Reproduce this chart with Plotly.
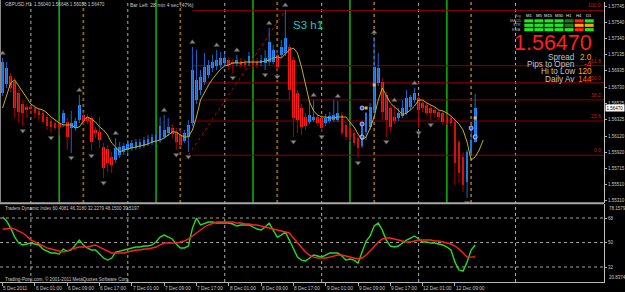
import plotly.graph_objects as go

# ---------------- data (GBPUSD H1, bar index 0 = 5 Dec 17:00) ----------------
open_ = [1.56658, 1.5677, 1.5687, 1.56795, 1.56658, 1.5652, 1.56483, 1.56483, 1.5647, 1.56433,
         1.56408, 1.56358, 1.56308, 1.56283, 1.5627, 1.56283, 1.56295, 1.5622, 1.5622, 1.5632,
         1.56383, 1.56358, 1.56345, 1.56195, 1.5617, 1.55983, 1.55958, 1.55858, 1.5582, 1.55883,
         1.5592, 1.55945, 1.5597, 1.5597, 1.55983, 1.55995, 1.5602, 1.56033, 1.56045, 1.5607,
         1.56108, 1.56158, 1.5622, 1.5617, 1.56133, 1.56058, 1.56108, 1.56283, 1.5657, 1.56695,
         1.56795, 1.56883, 1.5697, 1.56995, 1.57008, 1.57033, 1.5707, 1.57045, 1.57033, 1.57058,
         1.57045, 1.57033, 1.57058, 1.57045, 1.57033, 1.57033, 1.57045, 1.57045, 1.57133, 1.57133,
         1.57158, 1.57233, 1.5707, 1.56658, 1.5647, 1.56358, 1.56295, 1.5632, 1.56358, 1.56345,
         1.56283, 1.56308, 1.5632, 1.5632, 1.56383, 1.56258, 1.5622, 1.56158, 1.56095, 1.55995,
         1.5617, 1.56233, 1.56445, 1.56783, 1.56795, 1.56633, 1.5647, 1.56358, 1.56345, 1.5637,
         1.56408, 1.56483, 1.5657, 1.56595, 1.56533, 1.56508, 1.5647, 1.56445, 1.5642, 1.56408,
         1.56358, 1.56345, 1.56295, 1.56045, 1.55858, 1.55545, 1.5592, 1.5604]
high = [1.57095, 1.57045, 1.56908, 1.56845, 1.5672, 1.5657, 1.5652, 1.56508, 1.56508, 1.5647,
        1.56433, 1.56395, 1.56345, 1.5632, 1.56308, 1.56445, 1.56345, 1.56433, 1.56345, 1.56633,
        1.5642, 1.56395, 1.5637, 1.56233, 1.56358, 1.56033, 1.56008, 1.5592, 1.56095, 1.56045,
        1.56033, 1.5607, 1.5607, 1.56083, 1.56083, 1.56108, 1.56133, 1.56145, 1.56158, 1.56358,
        1.56383, 1.56345, 1.5627, 1.5622, 1.56195, 1.56195, 1.5632, 1.57233, 1.57195, 1.56945,
        1.57158, 1.5707, 1.57133, 1.57195, 1.5717, 1.57145, 1.57108, 1.57083, 1.57133, 1.57095,
        1.57083, 1.5717, 1.57083, 1.57095, 1.57133, 1.57195, 1.5747, 1.57258, 1.57195, 1.5732,
        1.57695, 1.5727, 1.57108, 1.56695, 1.5652, 1.56408, 1.5657, 1.5657, 1.56395, 1.56383,
        1.56395, 1.5642, 1.5657, 1.56558, 1.5642, 1.56295, 1.56258, 1.56195, 1.56133, 1.56283,
        1.5642, 1.56533, 1.57358, 1.57158, 1.56845, 1.5667, 1.56508, 1.56508, 1.5647, 1.5657,
        1.56695, 1.56633, 1.5672, 1.5662, 1.5657, 1.56545, 1.56508, 1.56483, 1.56445, 1.56433,
        1.56395, 1.56383, 1.56345, 1.5607, 1.5592, 1.55945, 1.56258, 1.56648]
low = [1.5662, 1.5672, 1.5667, 1.56345, 1.56283, 1.56245, 1.56345, 1.56395, 1.56345, 1.56308,
       1.5627, 1.56195, 1.56158, 1.56195, 1.56133, 1.56233, 1.55945, 1.55908, 1.56183, 1.56283,
       1.56258, 1.5627, 1.55933, 1.56095, 1.5597, 1.55595, 1.5567, 1.55658, 1.55783, 1.55845,
       1.55883, 1.55908, 1.55933, 1.55945, 1.55958, 1.5597, 1.55995, 1.56008, 1.5602, 1.56033,
       1.56083, 1.5612, 1.56095, 1.55945, 1.55983, 1.56033, 1.5592, 1.56245, 1.5652, 1.56633,
       1.56758, 1.56845, 1.5692, 1.56945, 1.5697, 1.56995, 1.56945, 1.56908, 1.56995, 1.5697,
       1.5697, 1.56995, 1.56945, 1.5697, 1.56995, 1.56945, 1.57008, 1.5702, 1.5692, 1.57095,
       1.5712, 1.5657, 1.56108, 1.56158, 1.56133, 1.56195, 1.5627, 1.56295, 1.56245, 1.5617,
       1.56245, 1.56283, 1.56295, 1.56295, 1.56133, 1.5607, 1.56045, 1.55995, 1.55845, 1.5597,
       1.5607, 1.56195, 1.56408, 1.56745, 1.5632, 1.56108, 1.5617, 1.5627, 1.56308, 1.56345,
       1.56383, 1.56445, 1.56533, 1.5622, 1.5642, 1.56383, 1.5632, 1.56345, 1.5632, 1.56258,
       1.56258, 1.56245, 1.55508, 1.55533, 1.5542, 1.55345, 1.5587, 1.56038]
close = [1.57045, 1.5697, 1.5672, 1.5647, 1.5642, 1.56408, 1.56445, 1.56458, 1.56408, 1.56383,
         1.56295, 1.56245, 1.56233, 1.5622, 1.56233, 1.56408, 1.56108, 1.56283, 1.56308, 1.56508,
         1.56308, 1.56308, 1.56045, 1.56158, 1.5607, 1.5572, 1.55783, 1.55758, 1.5597, 1.55983,
         1.55995, 1.5602, 1.56033, 1.56045, 1.56045, 1.5607, 1.56083, 1.56108, 1.56133, 1.56245,
         1.56195, 1.56233, 1.56145, 1.56045, 1.56008, 1.56158, 1.56258, 1.56945, 1.5682, 1.56858,
         1.56983, 1.57008, 1.57045, 1.5707, 1.57095, 1.57095, 1.57008, 1.5702, 1.5707, 1.57008,
         1.57008, 1.5712, 1.57008, 1.57008, 1.5707, 1.57095, 1.57295, 1.57195, 1.56983, 1.57233,
         1.57345, 1.56695, 1.56345, 1.5632, 1.56233, 1.56245, 1.56383, 1.56358, 1.56283, 1.5622,
         1.56345, 1.5637, 1.56383, 1.56408, 1.56158, 1.56108, 1.56095, 1.56033, 1.5597, 1.56245,
         1.56408, 1.56483, 1.56983, 1.5697, 1.5642, 1.5632, 1.56233, 1.56308, 1.56408, 1.5647,
         1.56595, 1.56608, 1.56658, 1.56445, 1.5647, 1.56408, 1.56408, 1.56408, 1.56358, 1.56295,
         1.56283, 1.56283, 1.55783, 1.55658, 1.55508, 1.5592, 1.5607, 1.5647]
ma_line = [1.5647, 1.56633, 1.56783, 1.5682, 1.56745, 1.5667, 1.56583, 1.5652, 1.56483, 1.56458,
           1.56445, 1.56408, 1.56358, 1.5632, 1.56283, 1.56258, 1.56258, 1.56258, 1.5622, 1.56233,
           1.56308, 1.56358, 1.56333, 1.56295, 1.56233, 1.56195, 1.56133, 1.56033, 1.55983, 1.5592,
           1.55945, 1.55958, 1.5597, 1.55983, 1.55995, 1.56008, 1.5602, 1.56045, 1.56058, 1.5607,
           1.56095, 1.56133, 1.5617, 1.5617, 1.56133, 1.56108, 1.56108, 1.56195, 1.56358, 1.5657,
           1.5667, 1.56758, 1.56833, 1.56895, 1.56958, 1.56995, 1.57008, 1.57033, 1.57033, 1.57033,
           1.57045, 1.57045, 1.57045, 1.57045, 1.57045, 1.57058, 1.5707, 1.57095, 1.57108, 1.57095,
           1.57145, 1.57195, 1.5722, 1.57158, 1.56983, 1.56745, 1.56545, 1.56433, 1.56383, 1.56358,
           1.56358, 1.56345, 1.56345, 1.56358, 1.56358, 1.56358, 1.56295, 1.56233, 1.56145, 1.5607,
           1.56108, 1.5622, 1.56358, 1.5657, 1.5672, 1.56633, 1.56533, 1.56483, 1.56445, 1.56383,
           1.56408, 1.56445, 1.56495, 1.5657, 1.5657, 1.56533, 1.56508, 1.56483, 1.56445, 1.56433,
           1.56408, 1.5637, 1.5632, 1.5627, 1.56195, 1.56045, 1.5582, 1.55858, 1.55945, 1.5607]
tdi_green = [68.7, 65.8, 60.6, 54.0, 49.6, 48.2, 48.9, 49.6, 48.9, 48.2,
             45.2, 43.7, 42.3, 42.3, 41.5, 45.2, 43.7, 44.5, 48.2, 51.8,
             48.2, 46.0, 44.5, 44.5, 41.5, 38.6, 37.1, 38.6, 43.0, 43.7,
             44.5, 45.2, 46.0, 46.7, 46.7, 47.4, 47.4, 48.2, 50.4, 54.0,
             55.5, 54.0, 52.6, 48.9, 46.0, 46.0, 47.4, 60.6, 68.0, 62.9,
             64.3, 65.1, 65.1, 64.3, 64.3, 64.3, 64.3, 63.6, 62.1, 62.9,
             62.9, 62.9, 61.4, 59.9, 59.2, 61.4, 64.3, 59.2, 54.0, 55.5,
             57.7, 51.8, 46.0, 39.3, 37.1, 36.4, 38.6, 40.8, 40.1, 39.3,
             40.8, 42.3, 42.3, 42.3, 40.1, 37.1, 37.9, 37.1, 34.9, 43.0,
             51.1, 54.8, 62.1, 64.3, 59.2, 51.8, 47.4, 46.7, 47.4, 49.6,
             51.8, 53.3, 54.8, 52.6, 50.4, 50.4, 49.6, 49.6, 48.9, 48.2,
             46.7, 44.5, 35.6, 29.8, 29.0, 35.6, 44.5, 48.15]
tdi_red = [59.9, 59.9, 60.6, 59.9, 58.4, 57.0, 54.8, 51.8, 50.4, 48.9,
           47.4, 46.0, 45.2, 44.5, 43.7, 43.0, 43.7, 45.2, 46.0, 46.7,
           46.7, 46.7, 47.4, 48.2, 46.7, 45.2, 43.7, 42.3, 42.3, 42.3,
           42.3, 43.0, 43.7, 44.5, 44.5, 45.2, 45.2, 46.0, 46.7, 48.2,
           49.6, 49.6, 49.6, 49.6, 50.4, 51.1, 52.6, 54.8, 57.0, 59.2,
           61.4, 62.9, 64.3, 65.1, 65.1, 65.1, 65.1, 65.1, 64.3, 64.3,
           63.6, 63.6, 62.9, 62.9, 62.1, 61.4, 60.6, 59.9, 59.2, 58.4,
           57.7, 57.0, 53.3, 49.6, 46.0, 43.0, 40.8, 39.3, 38.6, 38.6,
           38.6, 39.3, 40.1, 40.8, 40.8, 40.1, 39.3, 38.6, 37.9, 38.6,
           40.8, 43.7, 47.4, 50.4, 52.6, 53.3, 53.3, 52.6, 51.8, 51.1,
           50.4, 50.4, 51.1, 51.8, 51.8, 51.8, 51.8, 51.1, 51.1, 50.4,
           49.6, 48.9, 47.4, 45.2, 42.3, 39.3, 39.3, 39.52]
tdi_levels = [68, 50, 32]
tdi_status = "Traders Dynamic Index 60.4081 46.3180 32.2279 48.1500 39.5197"

fractal_up_bars = [0, 19, 28, 40, 47, 53, 58, 66, 70, 77, 83, 92, 97, 102]
fractal_down_bars = [5, 12, 17, 22, 25, 43, 46, 57, 65, 68, 72, 79, 88, 95, 103, 106, 115]
signal_dot_bars = [89, 89, 89, 116, 117]
signal_dot_prices = [1.5647, 1.5627, 1.56108, 1.5622, 1.56108]
signal_mark_bars = [90, 92, 117]
signal_mark_prices = [1.5647, 1.56758, 1.56345]

day_start_bars = [7, 31, 55, 79, 103, 127]
london_open_bars = [14, 38, 62, 86, 110]
ny_open_bars = [20, 44, 68, 92, 116]

time_label_bars = [0, 8, 16, 24, 32, 40, 48, 56, 64, 72, 80, 88, 96, 104, 112]
time_labels = ["5 Dec 2011", "6 Dec 01:00", "6 Dec 09:00", "6 Dec 17:00", "7 Dec 01:00",
               "7 Dec 09:00", "7 Dec 17:00", "8 Dec 01:00", "8 Dec 09:00", "8 Dec 17:00",
               "9 Dec 01:00", "9 Dec 09:00", "9 Dec 17:00", "12 Dec 01:00", "12 Dec 09:00"]
price_ticks = [1.57745, 1.57540, 1.57340, 1.57135, 1.56935, 1.56730, 1.56525,
               1.56325, 1.56120, 1.55920, 1.55715, 1.55510, 1.55310]

fib_low_bar, fib_high_bar = 46, 70
fib_start_bar = 47
fib_low, fib_high = 1.5588, 1.5769
fib_levels = [0.0, 23.6, 38.2, 50.0, 61.8, 100.0]

symbol_text = "GBPUSD,H1  1.56040 1.56648 1.56038 1.56470"
bar_left_text = "Bar Left: 28 min 4 sec (47%)"
last_price = 1.56470
info_labels = ["Spread", "Pips to Open", "Hi to Low", "Daily Av"]
info_values = ["2.0", "-4", "120", "144"]
signal_rows = ["MACD", "STR", "EMA"]
signal_tfs = ["M1", "M5", "M15", "M30", "H1", "H4", "D1"]
signal_states = [["up", "up", "up", "up", "weak", "down", "up"],
                 ["up", "up", "up", "up", "weak", "mixed", "mixed"],
                 ["up", "up", "up", "up", "up", "down", "up"]]

# ---------------- layout helpers ----------------
W, H = 625, 292
FONT = "Liberation Sans"
def px(x):
    return x / W
def py(y):
    return 1 - y / H

BAR0, BARW = 2.6, 4.052
XR = [-BAR0 / BARW, (606 - BAR0) / BARW]
PRICE_RANGE = [1.552825, 1.57795]
TDI_RANGE = [20.8374, 78.1579]

n = len(close)
bars = list(range(n))

fig = go.Figure()

# wicks
for up in (True, False):
    xs, ys = [], []
    for i in bars:
        if (close[i] >= open_[i]) == up:
            xs += [i, i, None]
            ys += [low[i], high[i], None]
    fig.add_trace(go.Scatter(x=xs, y=ys, mode="lines", hoverinfo="skip",
                             line=dict(color="#1F64C8" if up else "#B00000", width=1),
                             xaxis="x", yaxis="y"))

# bodies
bases = [min(o, c) for o, c in zip(open_, close)]
heights = [max(abs(c - o), 0.00013) for o, c in zip(open_, close)]
colors = ["#1E90FF" if c >= o else "#FF1A1A" for o, c in zip(open_, close)]
fig.add_trace(go.Bar(x=bars, y=heights, base=bases, width=0.68, hoverinfo="skip",
                     marker=dict(color=colors, line=dict(width=0)), xaxis="x", yaxis="y"))

# moving average
fig.add_trace(go.Scatter(x=list(range(len(ma_line))), y=ma_line, mode="lines", hoverinfo="skip",
                         line=dict(color="#BDB31C", width=1), xaxis="x", yaxis="y"))

# fractals
fig.add_trace(go.Scatter(x=fractal_up_bars, y=[high[i] + 0.0006 for i in fractal_up_bars],
                         mode="markers", hoverinfo="skip",
                         marker=dict(symbol="triangle-up", size=5, color="#8A8A8A",
                                     line=dict(color="#3A3A3A", width=0.6)),
                         xaxis="x", yaxis="y"))
fig.add_trace(go.Scatter(x=fractal_down_bars, y=[low[i] - 0.0006 for i in fractal_down_bars],
                         mode="markers", hoverinfo="skip",
                         marker=dict(symbol="triangle-down", size=5, color="#8A8A8A",
                                     line=dict(color="#3A3A3A", width=0.6)),
                         xaxis="x", yaxis="y"))
# signal dots
fig.add_trace(go.Scatter(x=signal_dot_bars, y=signal_dot_prices, mode="markers", hoverinfo="skip",
                         marker=dict(symbol="circle", size=4, color="#3050FF",
                                     line=dict(color="#E0E0FF", width=0.8)),
                         xaxis="x", yaxis="y"))
fig.add_trace(go.Scatter(x=signal_mark_bars, y=signal_mark_prices, mode="markers", hoverinfo="skip",
                         marker=dict(symbol="square", size=3, color="#F0B060"),
                         xaxis="x", yaxis="y"))

# TDI lines
fig.add_trace(go.Scatter(x=bars, y=tdi_green, mode="lines", hoverinfo="skip",
                         line=dict(color="#22DD22", width=1.4), xaxis="x2", yaxis="y2"))
fig.add_trace(go.Scatter(x=bars, y=tdi_red, mode="lines", hoverinfo="skip",
                         line=dict(color="#FF2020", width=1.4), xaxis="x2", yaxis="y2"))

shapes = []
# vertical session / day lines
for b in day_start_bars:
    shapes.append(dict(type="line", xref="x", yref="paper", x0=b, x1=b, y0=py(282), y1=py(0),
                       line=dict(color="#B0B0B0", width=1, dash="dot"), layer="below"))
for b in london_open_bars:
    shapes.append(dict(type="line", xref="x", yref="paper", x0=b, x1=b, y0=py(203), y1=py(0),
                       line=dict(color="#12D012", width=1.3), layer="below"))
for b in ny_open_bars:
    shapes.append(dict(type="line", xref="x", yref="paper", x0=b, x1=b, y0=py(203), y1=py(0),
                       line=dict(color="#8C6814", width=1.8, dash="dot"), layer="below"))
# fibonacci
fib_prices = [fib_low + (fib_high - fib_low) * lv / 100 for lv in fib_levels]
for lv, p in zip(fib_levels, fib_prices):
    shapes.append(dict(type="line", xref="x", yref="y", x0=fib_start_bar, x1=XR[1], y0=p, y1=p,
                       line=dict(color="#8E0000", width=1), layer="below"))
shapes.append(dict(type="line", xref="x", yref="y", x0=fib_low_bar, x1=fib_high_bar,
                   y0=fib_low, y1=fib_high, line=dict(color="#C00000", width=1, dash="dot"),
                   layer="below"))
# TDI levels
for lv in tdi_levels:
    shapes.append(dict(type="line", xref="x2", yref="y2", x0=XR[0], x1=XR[1], y0=lv, y1=lv,
                       line=dict(color="#A0A0A0", width=1, dash="dot"), layer="below"))
# panel separator
shapes.append(dict(type="line", xref="paper", yref="paper", x0=0, x1=px(606), y0=py(203.2), y1=py(203.2),
                   line=dict(color="#A8A8A8", width=2)))
# left border
shapes.append(dict(type="line", xref="paper", yref="paper", x0=px(0.5), x1=px(0.5), y0=py(203), y1=py(0),
                   line=dict(color="#8A8A8A", width=1)))
# signal table cells
state_color = {"up": "#22E622", "weak": "#1F7A1F", "down": "#FF2020", "mixed": "#FFA500"}
for r, row in enumerate(signal_states):
    for c, st in enumerate(row):
        x0 = 526 + c * 10.1
        y0 = 19.3 + r * 4.4
        shapes.append(dict(type="rect", xref="paper", yref="paper", x0=px(x0), x1=px(x0 + 9),
                           y0=py(y0 + 3.2), y1=py(y0), line=dict(width=0),
                           fillcolor=state_color[st]))

ann = []
def text(x, y, s, size, color, xanchor="left", yanchor="middle", **kw):
    ann.append(dict(x=px(x), y=py(y), xref="paper", yref="paper", text=s, showarrow=False,
                    xanchor=xanchor, yanchor=yanchor, font=dict(family=FONT, size=size, color=color),
                    **kw))

text(3, 5, symbol_text, 4.6, "#C8C8C8")
text(128, 5, bar_left_text, 5, "#C8C8C8")
text(292, 25, "S3 h1", 11.5, "#22C8C8")
text(3, 208, tdi_status, 4.5, "#C8C8C8")
text(3, 279, "Trading-Point.com, © 2001-2011 MetaQuotes Software Corp.", 4.6, "#C8C8C8")
# big price and info
text(596, 42.8, f"{last_price:.5f}", 21.5, "#FF1E1E", xanchor="right")
info_y = [57, 64.5, 71.5, 79.5]
info_colors = ["#FFA500", "#FF3A10", "#FFA500", "#FF6A10"]
for lab, val, yy, col in zip(info_labels, info_values, info_y, info_colors):
    text(579, yy, lab, 8.2, "#C4C4C4", xanchor="right")
    text(596, yy, val, 8.2, col, xanchor="right")
# signal table labels
text(520, 15.2, "Sig", 4, "#909090", xanchor="center")
for c, tf in enumerate(signal_tfs):
    text(526 + c * 10.1 + 4.5, 15.2, tf, 4.2, "#E8E8E8", xanchor="center")
for r, nm in enumerate(signal_rows):
    text(525, 20.9 + r * 4.4, nm, 3.8, "#B0B0B0", xanchor="right")
# fib labels
for lv, p in zip(fib_levels, fib_prices):
    ann.append(dict(x=px(605), y=p, xref="paper", yref="y", text=f"{lv:.1f}", showarrow=False,
                    xanchor="right", yanchor="bottom", font=dict(family=FONT, size=5, color="#C81E1E")))
# time labels
for b, lab in zip(time_label_bars, time_labels):
    ann.append(dict(x=max(b - 0.3, XR[0]), y=py(288), xref="x", yref="paper", text=lab,
                    showarrow=False, xanchor="left", yanchor="middle",
                    font=dict(family=FONT, size=4.8, color="#C8C8C8")))
# current price marker on axis
ann.append(dict(x=px(607), y=last_price, xref="paper", yref="y", text=f"{last_price:.5f}",
                showarrow=False, xanchor="left", yanchor="middle", bgcolor="#FFFFFF",
                borderpad=0.6, font=dict(family=FONT, size=4.5, color="#000000")))
# TDI extreme labels
ann.append(dict(x=px(609), y=TDI_RANGE[1], xref="paper", yref="y2", text=f"{TDI_RANGE[1]:.4f}",
                showarrow=False, xanchor="left", yanchor="top",
                font=dict(family=FONT, size=4.5, color="#C8C8C8")))
ann.append(dict(x=px(609), y=TDI_RANGE[0], xref="paper", yref="y2", text=f"{TDI_RANGE[0]:.4f}",
                showarrow=False, xanchor="left", yanchor="bottom",
                font=dict(family=FONT, size=4.5, color="#C8C8C8")))

axis_font = dict(family=FONT, size=4.5, color="#C8C8C8")
fig.update_layout(
    width=W, height=H, margin=dict(l=0, r=0, t=0, b=0),
    paper_bgcolor="#000000", plot_bgcolor="#000000", showlegend=False,
    bargap=0,
    xaxis=dict(domain=[0, px(606)], range=XR, anchor="y", showgrid=False, zeroline=False,
               showticklabels=False, ticks="", fixedrange=True),
    xaxis2=dict(domain=[0, px(606)], range=XR, anchor="y2", matches="x", showgrid=False,
                zeroline=False, showticklabels=False, ticks="outside", tickvals=time_label_bars,
                ticklen=3, tickcolor="#B0B0B0", showline=True, linecolor="#B8B8B8", linewidth=1),
    yaxis=dict(domain=[py(203), py(2)], range=PRICE_RANGE, side="right", anchor="x",
               tickvals=price_ticks, tickformat=".5f", ticks="outside", ticklen=2,
               tickcolor="#B0B0B0", tickfont=axis_font, showgrid=False, zeroline=False,
               showline=True, linecolor="#C0C0C0", linewidth=1),
    yaxis2=dict(domain=[py(282.2), py(204.2)], range=TDI_RANGE, side="right", anchor="x2",
                tickvals=tdi_levels, ticktext=[str(v) for v in tdi_levels], ticks="outside",
                ticklen=2, tickcolor="#B0B0B0", tickfont=axis_font, showgrid=False, zeroline=False,
                showline=True, linecolor="#C0C0C0", linewidth=1),
    shapes=shapes, annotations=ann,
)

fig.write_html("out.html")
